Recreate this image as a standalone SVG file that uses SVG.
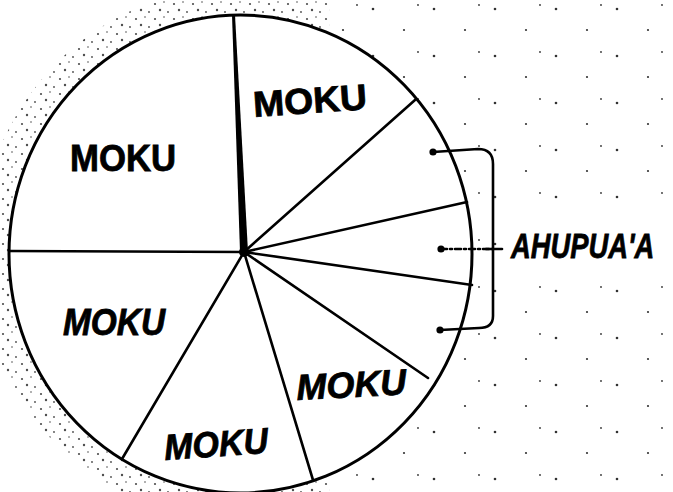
<svg xmlns="http://www.w3.org/2000/svg" width="673" height="492" viewBox="0 0 673 492">
  <style>
    .lbl { font-family: "Liberation Sans", Arial, sans-serif; font-weight: bold; font-size: 36px; fill: #000; stroke: #000; stroke-width: 0.8px; }
    .it { font-style: italic; }
    .spoke { stroke: #000; stroke-width: 2.6; fill: none; stroke-linecap: round; }
    .rim { stroke: #000; stroke-width: 3; fill: #fff; }
    .br { stroke: #000; stroke-width: 2.6; fill: none; stroke-linecap: round; stroke-linejoin: round; }
  </style>
  <defs>
    <pattern id="stip" width="19" height="15" patternUnits="userSpaceOnUse">
      <circle cx="3" cy="4" r="1.1" fill="#000"/>
      <circle cx="12" cy="2" r="0.8" fill="#000"/>
      <circle cx="8" cy="10" r="1.2" fill="#000"/>
      <circle cx="16" cy="12" r="0.9" fill="#000"/>
    </pattern>
    <pattern id="sparse" width="61" height="47" patternUnits="userSpaceOnUse">
      <circle cx="7" cy="9" r="1.3" fill="#000"/>
      <circle cx="38" cy="30" r="1.1" fill="#000"/>
      <circle cx="52" cy="5" r="0.9" fill="#000"/>
    </pattern>
    <clipPath id="leftside">
      <rect x="0" y="0" width="330" height="492"/>
    </clipPath>
    <mask id="notext">
      <rect x="0" y="0" width="673" height="492" fill="#fff"/>
      <rect x="500" y="215" width="173" height="60" fill="#000"/>
    </mask>
  </defs>
  <rect width="673" height="492" fill="#fff"/>
  <g id="stipple">
    <rect x="330" y="0" width="343" height="492" fill="url(#sparse)" opacity="0.8" mask="url(#notext)"/>
    <ellipse cx="240.5" cy="254" rx="262" ry="268" fill="url(#stip)" clip-path="url(#leftside)" opacity="0.7"/>
  </g>
  <g id="circle">
    <ellipse class="rim" cx="240.5" cy="254" rx="231.5" ry="239"/>
  </g>
  <g id="connectors">
    <line class="spoke" x1="9" y1="251" x2="244" y2="252" stroke-width="3"/>
    <path d="M232 15 L235 15 L248 252 L240 252 Z" fill="#000"/>
    <line class="spoke" x1="244" y1="252" x2="415" y2="100"/>
    <line class="spoke" x1="244" y1="252" x2="467" y2="202"/>
    <line class="spoke" x1="244" y1="252" x2="472" y2="285"/>
    <line class="spoke" x1="244" y1="252" x2="428" y2="378"/>
    <line class="spoke" x1="244" y1="252" x2="313" y2="480"/>
    <line class="spoke" x1="244" y1="252" x2="122" y2="459"/>
    <circle cx="244" cy="252" r="5" fill="#000"/>
    <path class="br" d="M433 152 L478 149 Q493 149 493 164 L493 316 Q493 328 479 328 L440 330"/>
    <circle cx="433" cy="152" r="3.6" fill="#000"/>
    <circle cx="440" cy="330" r="3.6" fill="#000"/>
    <line class="br" x1="441" y1="249" x2="493" y2="249" stroke-dasharray="6 3 2 3"/>
    <line class="br" x1="486" y1="249" x2="502" y2="249"/>
    <circle cx="441" cy="249" r="3.6" fill="#000"/>
  </g>
  <g id="moku-1"><text class="lbl" x="70" y="171" textLength="106" lengthAdjust="spacingAndGlyphs">MOKU</text></g>
  <g id="moku-2"><text class="lbl" x="254" y="117" textLength="114" lengthAdjust="spacingAndGlyphs" transform="rotate(-4 254 117)">MOKU</text></g>
  <g id="moku-3"><text class="lbl it" x="63" y="335" textLength="102" lengthAdjust="spacingAndGlyphs">MOKU</text></g>
  <g id="moku-4"><text class="lbl it" x="165" y="460" textLength="104" lengthAdjust="spacingAndGlyphs" transform="rotate(-4 165 460)">MOKU</text></g>
  <g id="moku-5"><text class="lbl it" x="297" y="400" textLength="110" lengthAdjust="spacingAndGlyphs" transform="rotate(-3 297 400)">MOKU</text></g>
  <g id="ahupuaa"><text class="lbl it" x="0" y="0" font-size="37" transform="translate(511 258) scale(0.76 1)">AHUPUA'A</text></g>
</svg>
